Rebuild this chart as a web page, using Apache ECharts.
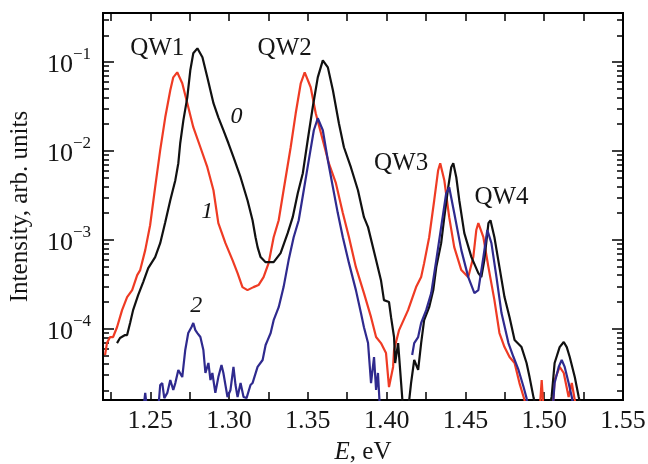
<!DOCTYPE html>
<html>
<head>
<meta charset="utf-8">
<script src="https://cdn.jsdelivr.net/npm/echarts@6/dist/echarts.min.js"></script>
<style>html,body{margin:0;padding:0;background:#fff}#c{width:648px;height:464px}</style>
</head>
<body>
<div id="c"></div>
<script>
// ---- data (E in eV, intensity in arb. units; 1.2e-5 = below the plotted range) ----
const energy0 = [1.2289,1.2308,1.2340,1.2353,1.2372,1.2391,1.2423,1.2455,1.2487,1.2531,1.2563,1.2595,1.2627,1.2659,1.2678,1.2690,1.2710,1.2735,1.2754,1.2773,1.2799,1.2831,1.2862,1.2901,1.2932,1.2964,1.2996,1.3028,1.3073,1.3117,1.3149,1.3168,1.3181,1.3200,1.3232,1.3283,1.3327,1.3372,1.3404,1.3436,1.3468,1.3499,1.3531,1.3563,1.3595,1.3627,1.3659,1.3697,1.3729,1.3773,1.3818,1.3856,1.3882,1.3933,1.3964,1.3983,1.4015,1.4028,1.4047,1.4054,1.4073,1.4092,1.4105,1.4136,1.4155,1.4175,1.4200,1.4219,1.4238,1.4270,1.4296,1.4315,1.4346,1.4366,1.4391,1.4410,1.4423,1.4442,1.4461,1.4493,1.4538,1.4582,1.4601,1.4620,1.4646,1.4659,1.4684,1.4716,1.4748,1.4780,1.4812,1.4856,1.4888,1.4907,1.4933,1.4952,1.5028,1.5047,1.5066,1.5098,1.5124,1.5143,1.5162,1.5194,1.5219,1.5238];
const intensity0 = [6.9e-5,7.87e-5,8.49e-5,8.49e-5,1.16e-4,1.62e-4,2.39e-4,3.35e-4,4.81e-4,6.4e-4,9.18e-4,1.58e-3,2.79e-3,4.69e-3,7.28e-3,0.0122,0.0221,0.0401,0.0807,0.1254,0.1426,0.113,0.0673,0.0344,0.0239,0.0171,0.0122,0.0085,0.00506,0.00279,0.00166,0.00107,8.28e-4,6.4e-4,5.61e-4,5.61e-4,7.1e-4,1.19e-3,1.8e-3,3.35e-3,5.61e-3,0.0132,0.031,0.0673,0.1045,0.0871,0.0481,0.0205,0.011,0.00656,0.00361,0.0018,0.00139,5.92e-4,3.52e-4,2.1e-4,2.0e-4,1.35e-4,8.07e-5,4.12e-5,6.9e-5,2.45e-5,1.2e-5,1.2e-5,2.45e-5,4.45e-5,3.44e-5,6.9e-5,1.25e-4,1.75e-4,2.72e-4,4.93e-4,9.18e-4,1.8e-3,3.91e-3,6.56e-3,7.28e-3,5.06e-3,2.79e-3,1.19e-3,6.4e-4,4.23e-4,3.81e-4,5.92e-4,1.54e-3,1.66e-3,1.07e-3,4.93e-4,2.27e-4,1.35e-4,7.46e-5,6.22e-5,4.12e-5,2.86e-5,1.66e-5,1.2e-5,1.2e-5,1.71e-5,4.12e-5,6.22e-5,7.1e-5,6.22e-5,4.81e-5,2.86e-5,1.71e-5,1.2e-5];

const energy1 = [1.2213,1.2225,1.2245,1.2264,1.2289,1.2321,1.2353,1.2385,1.2417,1.2436,1.2468,1.2499,1.2531,1.2563,1.2595,1.2627,1.2646,1.2671,1.2703,1.2735,1.2773,1.2818,1.2862,1.2901,1.2932,1.2977,1.3022,1.3054,1.3085,1.3117,1.3155,1.3187,1.3219,1.3251,1.3283,1.3315,1.3346,1.3391,1.3423,1.3455,1.3480,1.3518,1.3550,1.3595,1.3633,1.3678,1.3722,1.3761,1.3805,1.3856,1.3901,1.3933,1.3964,1.3996,1.4015,1.4041,1.4047,1.4079,1.4136,1.4187,1.4219,1.4238,1.4270,1.4302,1.4327,1.4340,1.4366,1.4397,1.4429,1.4474,1.4518,1.4550,1.4569,1.4582,1.4614,1.4646,1.4684,1.4716,1.4748,1.4780,1.4812,1.4843,1.4875,1.4888,1.4971,1.4984,1.4996,1.5053,1.5066,1.5098,1.5124,1.5155,1.5175,1.5194,1.5207];
const intensity1 = [5.06e-5,6.9e-5,8.07e-5,8.07e-5,1.04e-4,1.62e-4,2.27e-4,2.72e-4,4.01e-4,4.57e-4,7.66e-4,1.46e-3,3.91e-3,0.0102,0.0239,0.0481,0.0673,0.0766,0.0577,0.0344,0.0185,0.011,0.00656,0.00361,0.00154,9.18e-4,5.92e-4,4.23e-4,2.94e-4,2.72e-4,2.94e-4,3.1e-4,3.81e-4,5.47e-4,1.07e-3,1.66e-3,3.61e-3,0.011,0.0265,0.0577,0.0766,0.052,0.0265,0.0132,0.00728,0.00434,0.002,0.00107,4.93e-4,2.52e-4,1.35e-4,8.07e-5,6.9e-5,5.33e-5,2.21e-5,3.72e-5,5.77e-5,9.66e-5,1.62e-4,2.94e-4,3.81e-4,5.47e-4,1.07e-3,2.79e-3,6.07e-3,7.28e-3,4.69e-3,1.8e-3,8.28e-4,4.57e-4,3.81e-4,6.4e-4,1.29e-3,1.54e-3,1.07e-3,4.93e-4,2.1e-4,8.95e-5,6.22e-5,4.81e-5,4.12e-5,2.45e-5,1.58e-5,1.2e-5,1.2e-5,2.65e-5,1.2e-5,1.2e-5,2.65e-5,3.72e-5,3.18e-5,1.71e-5,2.45e-5,1.58e-5,1.2e-5];

const energy2 = [1.2455,1.2468,1.2480,1.2550,1.2563,1.2576,1.2589,1.2608,1.2627,1.2646,1.2659,1.2678,1.2703,1.2722,1.2741,1.2761,1.2773,1.2786,1.2799,1.2818,1.2837,1.2850,1.2869,1.2882,1.2894,1.2913,1.2932,1.2952,1.2964,1.2977,1.2990,1.3009,1.3028,1.3041,1.3054,1.3073,1.3092,1.3111,1.3136,1.3149,1.3181,1.3213,1.3232,1.3245,1.3264,1.3283,1.3315,1.3346,1.3378,1.3410,1.3442,1.3474,1.3506,1.3538,1.3563,1.3595,1.3627,1.3659,1.3690,1.3722,1.3761,1.3805,1.3837,1.3856,1.3882,1.3901,1.3920,1.3933,1.3945,1.3958,1.4050,1.4162,1.4175,1.4200,1.4219,1.4251,1.4283,1.4315,1.4346,1.4378,1.4397,1.4429,1.4474,1.4518,1.4557,1.4582,1.4614,1.4639,1.4665,1.4697,1.4729,1.4773,1.4805,1.4837,1.4869,1.4888,1.4901,1.5053,1.5066,1.5092,1.5111,1.5130,1.5155,1.5175,1.5187];
const intensity2 = [1.2e-5,1.9e-5,1.2e-5,1.2e-5,2.33e-5,2.45e-5,1.66e-5,1.9e-5,2.65e-5,2.05e-5,2.45e-5,3.44e-5,2.86e-5,5.77e-5,8.95e-5,1.04e-4,1.16e-4,9.66e-5,8.95e-5,8.07e-5,5.77e-5,3.18e-5,4.12e-5,2.65e-5,3.18e-5,1.9e-5,2.86e-5,3.91e-5,3.18e-5,2.33e-5,1.71e-5,2.05e-5,3.72e-5,2.33e-5,1.71e-5,2.45e-5,1.71e-5,1.66e-5,2.33e-5,2.45e-5,3.72e-5,4.45e-5,6.56e-5,7.46e-5,8.95e-5,1.25e-4,1.75e-4,2.94e-4,5.92e-4,1.07e-3,1.66e-3,3.61e-3,7.87e-3,0.0171,0.0233,0.0171,7.87e-3,3.91e-3,2.0e-3,1.07e-3,5.47e-4,2.72e-4,1.5e-4,1.04e-4,6.9e-5,2.45e-5,4.81e-5,2.05e-5,3.18e-5,1.2e-5,null,5.06e-5,6.9e-5,8.07e-5,1.16e-4,1.62e-4,2.52e-4,5.92e-4,1.39e-3,3.35e-3,3.91e-3,2.0e-3,7.66e-4,3.81e-4,2.52e-4,2.72e-4,6.4e-4,1.29e-3,9.18e-4,3.81e-4,1.5e-4,6.9e-5,4.81e-5,3.44e-5,2.21e-5,1.66e-5,1.2e-5,1.2e-5,2.45e-5,3.72e-5,4.45e-5,3.72e-5,2.45e-5,1.71e-5,1.2e-5];

// annotations
const wellNames = ['QW1','QW2','QW3','QW4'];
const wellE = [1.2544,1.3353,1.4092,1.4729];
const wellI = [0.143,0.143,0.00728,0.00302];
const curveNames = ['0','1','2'];
const curveE = [1.3047,1.2862,1.2792];
const curveI = [0.0245,0.00205,0.00018];

// axis ticks
const xTickValues = [1.225,1.25,1.275,1.30,1.325,1.35,1.375,1.40,1.425,1.45,1.475,1.50,1.525,1.55];
const xLabelValues = [1.25,1.30,1.35,1.40,1.45,1.50,1.55];
const yMajorValues = [1e-4,1e-3,1e-2,1e-1];
const yMinorValues = [];
[1e-5,1e-4,1e-3,1e-2,1e-1].forEach(d => { for (let k = 2; k <= 9; k++) yMinorValues.push(+(k*d).toPrecision(3)); });
const yMin = 1.58e-5, yMax = 0.356;

const zip = (xs, ys) => xs.map((x, i) => [x, ys[i]]);
const FONT = "Liberation Serif, Times New Roman, serif";
const TXT = '#151515';

const chart = echarts.init(document.getElementById('c'), null, {renderer: 'canvas'});
const axisLine = {show: true, onZero: false, lineStyle: {color: '#000', width: 2}};
function xAx(pos, labels) {
  return {
    type: 'value', position: pos, min: 1.22, max: 1.55,
    axisLine: axisLine,
    axisTick: {show: true, inside: true, length: 8, customValues: xTickValues, lineStyle: {color: '#000', width: 1.5}},
    axisLabel: labels ? {show: true, customValues: xLabelValues, formatter: v => v.toFixed(2), fontFamily: FONT, fontSize: 26, color: TXT, margin: 8} : {show: false},
    splitLine: {show: false},
    name: labels ? '{i|E}, eV' : '',
    nameLocation: 'middle', nameGap: 40,
    nameTextStyle: {fontFamily: FONT, fontSize: 25, color: TXT, rich: {i: {fontFamily: FONT, fontSize: 25, fontStyle: 'italic', color: TXT}}}
  };
}
function yAx(pos, major, labels) {
  return {
    type: 'log', logBase: 10, position: pos, min: yMin, max: yMax,
    axisLine: axisLine,
    axisTick: {show: true, inside: true, length: major ? 11 : 6, customValues: major ? yMajorValues : yMinorValues, lineStyle: {color: '#000', width: 1.5}},
    axisLabel: labels ? {
      show: true, customValues: yMajorValues, margin: 12,
      formatter: v => '{b|10}{s|−' + Math.round(-Math.log10(v)) + '}',
      rich: {
        b: {fontFamily: FONT, fontSize: 26, color: TXT, lineHeight: 32, verticalAlign: 'bottom'},
        s: {fontFamily: FONT, fontSize: 17, color: TXT, lineHeight: 32, verticalAlign: 'top'}
      }
    } : {show: false},
    splitLine: {show: false}, minorTick: {show: false},
    name: labels ? 'Intensity, arb. units' : '',
    nameLocation: 'middle', nameGap: 70, nameRotate: 90,
    nameTextStyle: {fontFamily: FONT, fontSize: 25, color: TXT}
  };
}

const lineSeries = (name, data, color) => ({
  name, type: 'line', data, xAxisIndex: 0, yAxisIndex: 0,
  showSymbol: false, symbol: 'none', smooth: false, connectNulls: false, clip: true,
  lineStyle: {color, width: 2.2}, z: 3
});
const textSeries = (names, es, is, italic, size) => ({
  type: 'scatter', symbolSize: 0, xAxisIndex: 0, yAxisIndex: 0, z: 5, silent: true,
  itemStyle: {opacity: 1},
  data: names.map((n, i) => ({name: n, value: [es[i], is[i]]})),
  label: {show: true, position: 'inside', opacity: 1, formatter: p => p.name, fontFamily: FONT, fontSize: size,
          fontStyle: italic ? 'italic' : 'normal', color: TXT, textBorderWidth: 0}
});

chart.setOption({
  animation: false,
  backgroundColor: '#fff',
  grid: {left: 103, right: 25, top: 13, bottom: 64, containLabel: false, outerBoundsMode: 'none'},
  xAxis: [xAx('bottom', true), xAx('top', false)],
  yAxis: [yAx('left', true, true), yAx('left', false, false), yAx('right', true, false), yAx('right', false, false)],
  series: [
    lineSeries('1', zip(energy1, intensity1), '#ef3b24'),
    lineSeries('0', zip(energy0, intensity0), '#111111'),
    lineSeries('2', zip(energy2, intensity2), '#2f2a8e'),
    textSeries(wellNames, wellE, wellI, false, 25),
    textSeries(curveNames, curveE, curveI, true, 24)
  ]
});
</script>
</body>
</html>
